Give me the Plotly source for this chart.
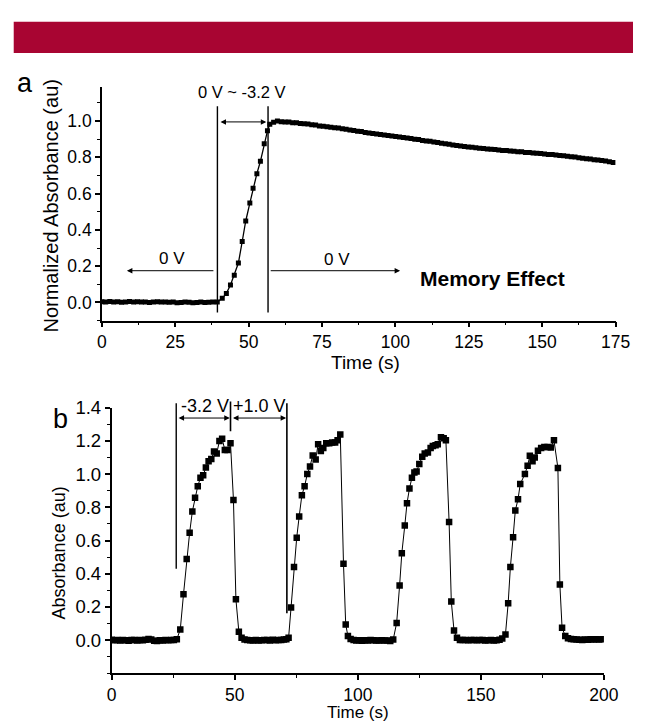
import plotly.graph_objects as go

# ---------------- data ----------------
# Panel a: normalized absorbance vs time (memory effect)
a_time = [
    0.0, 1.3, 2.7, 4.0, 5.4, 6.7, 8.1, 9.4, 10.8, 12.1, 13.5, 14.8, 16.2, 17.5, 18.9,
    20.2, 21.6, 22.9, 24.3, 25.6, 27.0, 28.3, 29.7, 31.0, 32.4, 33.7, 35.1, 36.4, 37.8, 39.3,
    41.0, 42.4, 43.8, 45.1, 46.5, 47.8, 49.0, 50.4, 51.5, 52.8, 54.0, 55.3, 56.4, 57.2,
    58.5, 59.8, 61.1, 62.4, 63.7, 65.0, 66.3, 67.6, 68.9, 70.2, 71.5, 72.8, 74.1, 75.4, 76.7,
    78.0, 79.3, 80.6, 81.9, 83.2, 84.5, 85.8, 87.1, 88.4, 89.7, 91.0, 92.3, 93.6, 94.9, 96.2,
    97.5, 98.8, 100.1, 101.4, 102.7, 104.0, 105.3, 106.6, 107.9, 109.2, 110.5, 111.8, 113.1,
    114.4, 115.7, 117.0, 118.3, 119.6, 120.9, 122.2, 123.5, 124.8, 126.1, 127.4, 128.7, 130.0,
    131.3, 132.6, 133.9, 135.2, 136.5, 137.8, 139.1, 140.4, 141.7, 143.0, 144.3, 145.6, 146.9,
    148.2, 149.5, 150.8, 152.1, 153.4, 154.7, 156.0, 157.3, 158.6, 159.9, 161.2, 162.5, 163.8,
    165.1, 166.4, 167.7, 169.0, 170.3, 171.6, 172.9, 174.2,
]
a_abs = [
    0.004, 0.002, 0.005, 0.003, 0.004, 0.001, 0.003, 0.005, 0.002, 0.004, 0.003, 0.002, 0.000, 0.003, 0.004,
    0.002, 0.003, 0.001, 0.002, -0.001, 0.000, 0.002, 0.001, -0.002, 0.000, 0.002, 0.000, 0.001, 0.002, 0.003,
    0.023, 0.050, 0.096, 0.150, 0.217, 0.336, 0.449, 0.548, 0.629, 0.710, 0.778, 0.874, 0.946, 0.982,
    0.993, 1.000, 0.996, 0.994, 0.995, 0.990, 0.991, 0.986, 0.985, 0.983, 0.979, 0.978, 0.973, 0.971, 0.969,
    0.966, 0.963, 0.961, 0.957, 0.955, 0.951, 0.948, 0.944, 0.942, 0.936, 0.934, 0.931, 0.929, 0.925, 0.923,
    0.920, 0.918, 0.915, 0.912, 0.909, 0.907, 0.903, 0.900, 0.898, 0.893, 0.890, 0.888, 0.884,
    0.882, 0.878, 0.875, 0.872, 0.868, 0.865, 0.862, 0.860, 0.857, 0.855, 0.852, 0.850, 0.849,
    0.846, 0.844, 0.843, 0.840, 0.838, 0.837, 0.835, 0.833, 0.831, 0.830, 0.827, 0.826, 0.824,
    0.822, 0.821, 0.818, 0.816, 0.815, 0.813, 0.810, 0.808, 0.806, 0.803, 0.801, 0.798, 0.795,
    0.792, 0.790, 0.787, 0.785, 0.782, 0.779, 0.776, 0.772,
]

# Panel b: absorbance switching cycles
b_time = [
    0.0, 1.2, 2.3, 3.5, 4.6, 5.8, 6.9, 8.1, 9.2, 10.4, 11.5, 12.7, 13.8, 15.0, 16.1, 17.3,
    18.4, 19.6, 20.7, 21.9, 23.0, 24.2, 25.3, 26.5,
    27.9, 29.2, 30.5, 31.7, 32.8, 33.9, 35.0, 36.1, 37.2, 38.3, 39.4, 40.5, 41.6, 42.7, 43.8,
    44.9, 46.0, 47.1, 48.3, 49.5, 50.5, 51.7, 52.8,
    54.0, 55.1, 56.3, 57.4, 58.6, 59.7, 60.9, 62.0, 63.2, 64.3, 65.5, 66.6, 67.8, 68.9, 70.0,
    71.0, 71.9,
    72.9, 74.1, 75.2, 76.2, 77.3, 78.4, 79.5, 80.6, 81.7, 82.9, 83.9, 85.0, 86.0, 87.2, 88.4,
    89.6, 90.8, 91.8, 92.9, 94.2, 95.1, 96.0,
    97.1, 98.3, 99.4, 100.6, 101.7, 102.9, 104.0, 105.2, 106.3, 107.5, 108.6, 109.8, 110.9,
    112.1, 113.2, 114.4,
    115.8, 117.0, 117.9, 119.1, 120.0, 121.0, 122.0, 123.0, 123.9, 125.0, 126.2, 127.2, 128.5,
    129.6, 130.5, 131.6, 132.5, 133.8, 134.9, 135.8, 137.1, 138.0, 139.1, 140.3,
    141.5, 142.6, 143.8, 144.9, 146.1, 147.2, 148.4, 149.5, 150.7, 151.8, 153.0, 154.1, 155.3,
    156.4, 157.6, 158.7,
    160.0, 161.1, 162.0, 163.1, 164.0, 165.1, 166.0, 167.9, 169.0, 169.9, 171.0, 171.9, 173.2,
    174.5, 175.8, 177.1, 178.4, 179.7, 181.3, 182.1, 183.0, 184.3,
    185.4, 186.6, 187.7, 188.9, 190.0, 191.2, 192.3, 193.5, 194.6, 195.8, 196.9, 198.1, 199.4,
]
b_abs = [
    0.003, 0.000, 0.002, -0.002, 0.001, 0.000, -0.003, 0.001, 0.002, -0.001, 0.001, 0.000, 0.003, 0.008, 0.004, -0.003,
    -0.004, 0.000, -0.002, 0.001, 0.000, 0.002, 0.001, 0.006,
    0.065, 0.276, 0.489, 0.647, 0.775, 0.858, 0.927, 0.978, 0.992, 1.040, 1.077, 1.090, 1.136, 1.124, 1.199,
    1.213, 1.144, 1.144, 1.185, 0.844, 0.246, 0.051, 0.015,
    0.004, 0.002, 0.000, -0.002, 0.001, -0.001, 0.000, 0.002, 0.001, -0.001, 0.003, 0.000, 0.001, 0.002, 0.004,
    0.006, 0.015,
    0.197, 0.440, 0.617, 0.745, 0.873, 0.927, 1.000, 1.045, 1.112, 1.088, 1.180, 1.138, 1.156, 1.185, 1.185,
    1.190, 1.190, 1.203, 1.238, 0.460, 0.095, 0.025,
    0.008, 0.002, -0.002, 0.000, -0.003, 0.000, -0.002, 0.001, 0.000, -0.002, -0.001, 0.000, -0.002,
    -0.001, -0.004, 0.004,
    0.104, 0.330, 0.524, 0.690, 0.824, 0.913, 0.978, 1.010, 1.015, 1.060, 1.104, 1.124, 1.130,
    1.156, 1.169, 1.173, 1.180, 1.222, 1.215, 1.203, 0.712, 0.233, 0.059, 0.015,
    0.002, 0.001, 0.002, 0.000, 0.001, 0.002, 0.000, 0.001, 0.002, -0.001, 0.000, 0.001, -0.002,
    0.000, 0.003, 0.010,
    0.035, 0.222, 0.440, 0.620, 0.780, 0.848, 0.940, 1.000, 1.050, 1.110, 1.077, 1.100, 1.140,
    1.156, 1.163, 1.163, 1.160, 1.203, 1.037, 0.335, 0.075, 0.025,
    0.012, 0.008, 0.006, 0.004, 0.003, 0.002, 0.004, 0.003, 0.006, 0.005, 0.006, 0.004, 0.006,
]

a_xticks = [0, 25, 50, 75, 100, 125, 150, 175]
a_yticks = [0.0, 0.2, 0.4, 0.6, 0.8, 1.0]
b_xticks = [0, 50, 100, 150, 200]
b_yticks = [0.0, 0.2, 0.4, 0.6, 0.8, 1.0, 1.2, 1.4]

# ---------------- layout ----------------
W, H = 648, 723
FONT = "Liberation Sans, Arial, sans-serif"


def xdom(px0, px1):
    return [px0 / W, px1 / W]


def ydom(px_bottom, px_top):
    return [1 - px_bottom / H, 1 - px_top / H]


def px(x):
    return x / W


def py(y):
    return 1 - y / H


fig = go.Figure()

fig.add_trace(go.Scatter(
    x=a_time, y=a_abs, mode="lines+markers", xaxis="x", yaxis="y",
    line=dict(color="black", width=1.3),
    marker=dict(symbol="square", size=5, color="black"),
    showlegend=False,
))
fig.add_trace(go.Scatter(
    x=b_time, y=b_abs, mode="lines+markers", xaxis="x2", yaxis="y2",
    line=dict(color="black", width=1),
    marker=dict(symbol="square", size=6.5, color="black"),
    showlegend=False,
))


def axis_style(tick_size):
    return dict(
        showline=True, linecolor="black", linewidth=1.6, mirror=False,
        ticks="outside", ticklen=5, tickwidth=1.5, tickcolor="black",
        showgrid=False, zeroline=False,
        tickfont=dict(family=FONT, size=tick_size, color="black"),
    )


def minor_style(step):
    return dict(ticks="outside", ticklen=3, tickwidth=1.2, tickcolor="black", dtick=step, tick0=0)


fig.update_layout(
    width=W, height=H,
    margin=dict(l=0, r=0, t=0, b=0),
    paper_bgcolor="white", plot_bgcolor="white",
    font=dict(family=FONT, color="black"),
    xaxis=dict(
        **axis_style(17.5), domain=xdom(100, 630), range=[0, 175], anchor="y",
        tickmode="array", tickvals=a_xticks, minor=minor_style(12.5),
    ),
    yaxis=dict(
        **axis_style(17.5), domain=ydom(314.4, 76.7), range=[-0.1, 1.19], anchor="x",
        tickmode="array", tickvals=a_yticks, ticktext=[f"{v:.1f}" for v in a_yticks],
        minor=minor_style(0.1),
    ),
    xaxis2=dict(
        **axis_style(17.5), domain=xdom(110, 618), range=[0, 200], anchor="y2",
        tickmode="array", tickvals=b_xticks, minor=minor_style(25),
    ),
    yaxis2=dict(
        **axis_style(18.5), domain=ydom(672.7, 402.7), range=[-0.2, 1.4], anchor="x2",
        tickmode="array", tickvals=b_yticks, ticktext=[f"{v:.1f}" for v in b_yticks],
        minor=minor_style(0.1),
    ),
)

# red banner
fig.add_shape(type="rect", xref="paper", yref="paper",
              x0=px(9), x1=1.0, y0=py(42.7), y1=py(11),
              fillcolor="#A80532", line=dict(width=0), layer="above")


def vline(xr, yr, x, y_low, y_high, width=1.4):
    fig.add_annotation(xref=xr, yref=yr, axref=xr, ayref=yr,
                       x=x, y=y_low, ax=x, ay=y_high, text="",
                       showarrow=True, arrowhead=0, arrowwidth=width,
                       arrowcolor="black", standoff=0, startstandoff=0)


def harrow(xr, yr, x_from, x_to, y, both=False):
    fig.add_annotation(xref=xr, yref=yr, axref=xr, ayref=yr,
                       x=x_to, y=y, ax=x_from, ay=y, text="",
                       showarrow=True, arrowhead=2, arrowsize=1.1, arrowwidth=1,
                       arrowside="end+start" if both else "end",
                       arrowcolor="black", standoff=0, startstandoff=0)


def label(xr, yr, x, y, text, size, bold=False, xanchor="center", yanchor="middle", angle=0):
    fig.add_annotation(xref=xr, yref=yr, x=x, y=y, text=f"<b>{text}</b>" if bold else text,
                       showarrow=False, xanchor=xanchor, yanchor=yanchor, textangle=angle,
                       borderpad=0,
                       font=dict(family=FONT, size=size, color="black"))


# axis titles
label("paper", "paper", px(372), py(357), "Time (s)", 19)
label("paper", "paper", px(47), py(198), "Normalized Absorbance (au)", 20, angle=-90)
label("paper", "paper", px(364), py(712), "Time (s)", 17)
label("paper", "paper", px(55.5), py(550), "Absorbance (au)", 18, angle=-90)

# panel a annotations
vline("x", "y", 39.35, -0.055, 1.09)
vline("x", "y", 56.6, -0.055, 1.09)
harrow("x", "y", 39.9, 56.0, 0.995, both=True)
harrow("x", "y", 38.5, 8.5, 0.175)
harrow("x", "y", 57.0, 101.6, 0.175)
label("x", "y", 47.6, 1.16, "0 V ~ -3.2 V", 16.5)
label("x", "y", 23.8, 0.245, "0 V", 17)
label("x", "y", 80.1, 0.235, "0 V", 17)
label("x", "y", 133.1, 0.13, "Memory Effect", 21, bold=True)

# panel b annotations
vline("x2", "y2", 26.25, 0.43, 1.435)
vline("x2", "y2", 48.3, 1.258, 1.445, width=1.6)
vline("x2", "y2", 71.2, 0.163, 1.435, width=1.6)
harrow("x2", "y2", 26.6, 48.0, 1.337, both=True)
harrow("x2", "y2", 48.7, 70.9, 1.337, both=True)
label("x2", "y2", 37.8, 1.345, "-3.2 V", 18, yanchor="bottom")
label("x2", "y2", 59.9, 1.345, "+1.0 V", 18, yanchor="bottom")

# panel letters
label("paper", "paper", px(20.5), py(73.5), "a", 27)
label("paper", "paper", px(57.5), py(414), "b", 27)

PIN_PAGE = (
    "document.documentElement.style.margin='0';"
    "document.body.style.margin='0';"
)

fig.write_html("out.html", config={"displayModeBar": False}, post_script=PIN_PAGE)
